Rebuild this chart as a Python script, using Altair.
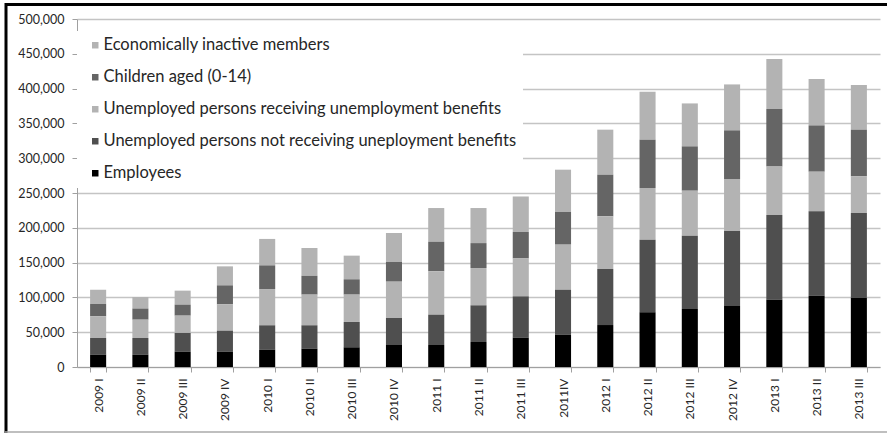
import altair as alt
import pandas as pd

quarters = ["2009 I", "2009 II", "2009 III", "2009 IV", "2010 I", "2010 II", "2010 III",
            "2010 IV", "2011 I", "2011 II", "2011 III", "2011IV", "2012 I", "2012 II",
            "2012 III", "2012 IV", "2013 I", "2013 II", "2013 III"]

employees = [17700, 17700, 22000, 22000, 24900, 26300, 28300, 31600, 31600, 35900,
             42100, 46500, 60300, 78500, 83300, 87600, 96700, 102400, 99600]
unemp_no_benefit = [24000, 24000, 26900, 30200, 35000, 33600, 36400, 38800, 43600, 52700,
                    59400, 64500, 80500, 104400, 105300, 107800, 121700, 121200, 121700]
unemp_benefit = [31100, 26300, 24900, 37800, 52100, 44100, 39300, 52200, 62300, 53600,
                 54500, 64800, 75600, 74300, 64700, 74600, 69800, 57000, 52600]
children = [17700, 16000, 15800, 27300, 34000, 27000, 22000, 28300, 42500, 35800,
            38000, 46900, 59900, 69400, 63700, 70000, 82500, 66500, 67100]
inactive = [20500, 16600, 20100, 27300, 38000, 40000, 34000, 41600, 48400, 50400,
            51000, 60800, 64700, 68900, 61700, 66000, 71800, 66700, 64200]

series_names = ["Economically inactive members",
                "Children aged (0-14)",
                "Unemployed persons receiving unemployment benefits",
                "Unemployed persons not receiving uneployment benefits",
                "Employees"]
series_values = [inactive, children, unemp_benefit, unemp_no_benefit, employees]
series_colors = ["#b3b3b3", "#656565", "#b3b3b3", "#4f4f4f", "#000000"]

rows = []
for si, (name, vals) in enumerate(zip(series_names, series_values)):
    for q, v in zip(quarters, vals):
        rows.append({"quarter": q, "series": name, "value": v,
                     "stack": len(series_names) - 1 - si})
df = pd.DataFrame(rows)

FONT = "Lato"
TXT = "#262626"

bars = alt.Chart(df).mark_bar().encode(
    x=alt.X("quarter:N", sort=quarters, title=None,
            scale=alt.Scale(paddingInner=0.62, paddingOuter=0.31),
            axis=alt.Axis(labelAngle=-90, tickBand="extent", tickSize=5,
                          labelPadding=6, labelFont=FONT, labelFontSize=12,
                          labelColor=TXT, domainColor="#a0a0a0", tickColor="#a0a0a0",
                          grid=False)),
    y=alt.Y("value:Q", stack="zero", title=None,
            scale=alt.Scale(domain=[0, 500000], nice=False),
            axis=alt.Axis(values=list(range(0, 500001, 50000)), format=",.0f",
                          tickSize=5, labelPadding=8, labelFont=FONT, labelFontSize=12.5,
                          labelColor=TXT, domainColor="#a0a0a0", tickColor="#a0a0a0",
                          grid=True, gridColor="#c4c4c4", gridWidth=1.5)),
    color=alt.Color("series:N",
                    scale=alt.Scale(domain=series_names, range=series_colors),
                    legend=alt.Legend(title=None, orient="none", legendX=0, legendY=12,
                                      fillColor="white", padding=6,
                                      symbolType="square", symbolSize=42,
                                      symbolOffset=4,
                                      symbolStrokeWidth=0, labelOffset=0,
                                      labelFont=FONT, labelFontSize=16.5,
                                      labelColor=TXT, labelLimit=0, rowPadding=15)),
    order=alt.Order("stack:Q", sort="ascending"),
)

frame_df = pd.DataFrame({"k": [0]})
top_line = alt.Chart(frame_df).mark_rule(color="black", strokeWidth=3).encode(
    x=alt.value(-72), x2=alt.value(810), y=alt.value(-14.5))
left_line = alt.Chart(frame_df).mark_rule(color="black", strokeWidth=3).encode(
    x=alt.value(-71), y=alt.value(-16), y2=alt.value(414))
bottom_line = alt.Chart(frame_df).mark_rule(color="#aaaaaa", strokeWidth=1.5).encode(
    x=alt.value(-72), x2=alt.value(810), y=alt.value(413))

chart = alt.layer(bars, top_line, left_line, bottom_line).properties(
    width=803, height=348,
    autosize=alt.AutoSizeParams(type="none"),
    padding={"left": 77, "top": 19, "right": 7, "bottom": 66},
    background="white",
).configure_view(stroke=None)

chart.save("out.html", embed_options={"renderer": "svg", "actions": False})
